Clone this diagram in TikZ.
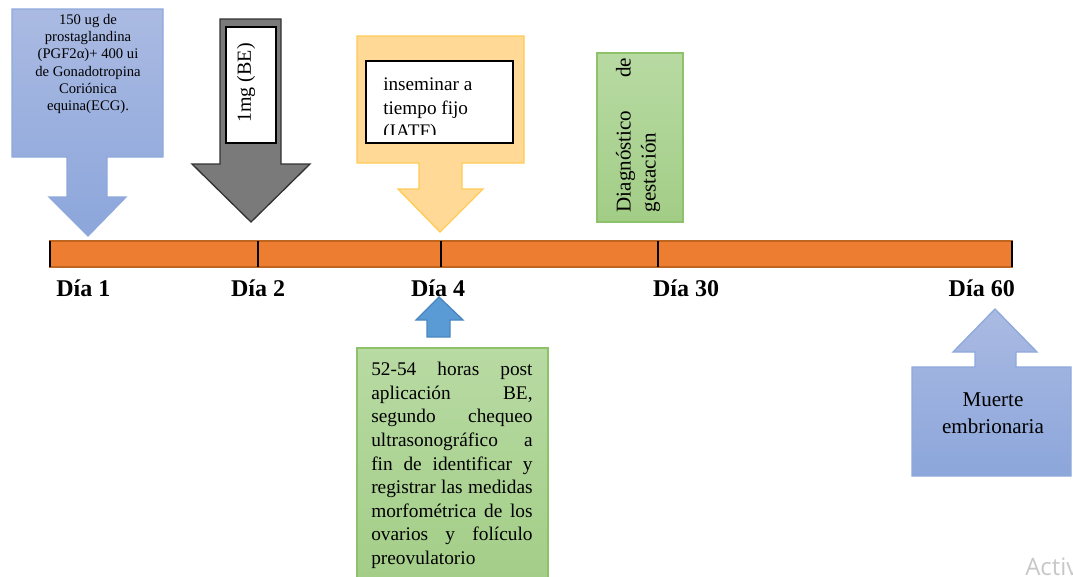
\documentclass[tikz,border=0pt]{standalone}
\usepackage{fontspec}
\setmainfont{Liberation Serif}
\setsansfont{Open Sans}
\usetikzlibrary{positioning}

\definecolor{barorange}{HTML}{ED7D31}
\definecolor{barline}{HTML}{C0651F}
\definecolor{bluetop}{HTML}{AABAE2}
\definecolor{bluebot}{HTML}{8CA6DB}
\definecolor{blueline}{HTML}{8EA9DC}
\definecolor{arrowblue}{HTML}{5B9BD5}
\definecolor{arrowline}{HTML}{4A86BE}
\definecolor{yellowfill}{HTML}{FFD995}
\definecolor{yellowline}{HTML}{FFCB55}
\definecolor{greentop}{HTML}{B8DAA3}
\definecolor{greenbot}{HTML}{A2CD86}
\definecolor{greenline}{HTML}{8DC26B}
\definecolor{grayfill}{HTML}{7A7A7A}

\newcommand{\setfs}[2]{\fontsize{#1}{#2}\selectfont}

\tikzset{
	bluecall/.style={draw=blueline, line width=1pt, top color=bluetop, bottom color=bluebot},
	greenbox/.style={draw=greenline, line width=1pt, top color=greentop, bottom color=greenbot},
	daylabel/.style={anchor=base, inner sep=0pt, font=\bfseries\setfs{18}{21}},
	tick/.style={line width=1.6pt, black}
}

\begin{document}
\begin{tikzpicture}[x=0.75pt, y=-0.75pt]
	\useasboundingbox (0,0) rectangle (1073,576);

	% callouts above the bar
	\draw[bluecall] (12,9) -- (163,9) -- (163,157) -- (107,157) -- (107,197) -- (126,197) -- (88,236)
		-- (49,197) -- (67,197) -- (67,157) -- (12,157) -- cycle;
	\node[align=center, inner sep=0pt, font=\setfs{11}{12.9}] (pgf) at (88,64)
		{150 ug de\\prostaglandina\\(PGF2α)+ 400 ui\\de Gonadotropina\\Coriónica\\equina(ECG).};

	\draw[fill=grayfill, draw=black!80, line width=1pt] (220,19) -- (281,19) -- (281,164) -- (310,164)
		-- (251,222) -- (192,164) -- (220,164) -- cycle;
	\draw[fill=white, draw=black, line width=0.8pt] (226,27) rectangle (276,143);
	\node[rotate=90, inner sep=0pt, font=\setfs{15}{18}] (be) at (246,83) {1mg (BE)};

	\draw[fill=yellowfill, draw=yellowline, line width=1pt] (357,36) -- (524,36) -- (524,163) -- (462,163)
		-- (462,189) -- (483,189) -- (440,232) -- (398,189) -- (419,189) -- (419,163) -- (357,163) -- cycle;
	\draw[fill=white, draw=black, line width=0.8pt] (366,61) rectangle (513,143);
	\begin{scope}
		\clip (366,61) rectangle (513,134);
		\node[anchor=north west, align=left, inner sep=0pt, font=\setfs{14.4}{17.4}] (iatf) at (383,78)
			{inseminar a\\tiempo fijo\\(IATF)};
	\end{scope}

	\draw[greenbox] (597,53) rectangle (683,222);
	\node[rotate=90, text width=116pt, align=justify, inner sep=0pt, font=\setfs{15.8}{18.8}] (diag) at (638,135)
		{Diagnóstico de\linebreak gestación};

	% time line
	\draw[fill=barorange, draw=barline, line width=1pt] (50,241) rectangle (1012,267);
	\coordinate (t1) at (50,241);
	\coordinate (t2) at (258,241);
	\coordinate (t3) at (441,241);
	\coordinate (t4) at (658,241);
	\coordinate (t5) at (1012,241);
	\coordinate (b1) at (50,267);
	\coordinate (b2) at (258,267);
	\coordinate (b3) at (441,267);
	\coordinate (b4) at (658,267);
	\coordinate (b5) at (1012,267);
	\draw[tick] (t1) -- (b1);
	\draw[tick] (t2) -- (b2);
	\draw[tick] (t3) -- (b3);
	\draw[tick] (t4) -- (b4);
	\draw[tick] (t5) -- (b5);

	\node[daylabel, anchor=base west] (d1) at (56,296) {Día 1};
	\node[daylabel] (d2) at (258,296) {Día 2};
	\node[daylabel] (d4) at (438,296) {Día 4};
	\node[daylabel] (d30) at (686,296) {Día 30};
	\node[daylabel, anchor=base east] (d60) at (1015,296) {Día 60};

	% callouts below the bar
	\draw[fill=arrowblue, draw=arrowline, line width=1pt] (439,297) -- (463,320) -- (450,320) -- (450,337)
		-- (427,337) -- (427,320) -- (416,320) -- cycle;
	\draw[greenbox] (357,348) rectangle (548,590);
	\node[anchor=north west, text width=121pt, align=justify, inner sep=0pt, font=\setfs{14.5}{17.7}] (horas) at (371,362)
		{52-54 horas post\linebreak aplicación BE,\linebreak segundo chequeo\linebreak
		ultrasonográfico a\linebreak fin de identificar y\linebreak registrar las medidas\linebreak
		morfométrica de los\linebreak ovarios y folículo\linebreak preovulatorio};

	\draw[bluecall] (912,367) -- (975,367) -- (975,352) -- (953,352) -- (995,309) -- (1037,352) -- (1016,352)
		-- (1016,367) -- (1071,367) -- (1071,476) -- (912,476) -- cycle;
	\node[align=center, inner sep=0pt, font=\setfs{15.8}{20}] (muerte) at (993,413) {Muerte\\embrionaria};

	\node[anchor=base west, inner sep=0pt, text=black!22, font=\sffamily\setfs{18}{20}] (activ) at (1025,575) {Activ};
\end{tikzpicture}
\end{document}
